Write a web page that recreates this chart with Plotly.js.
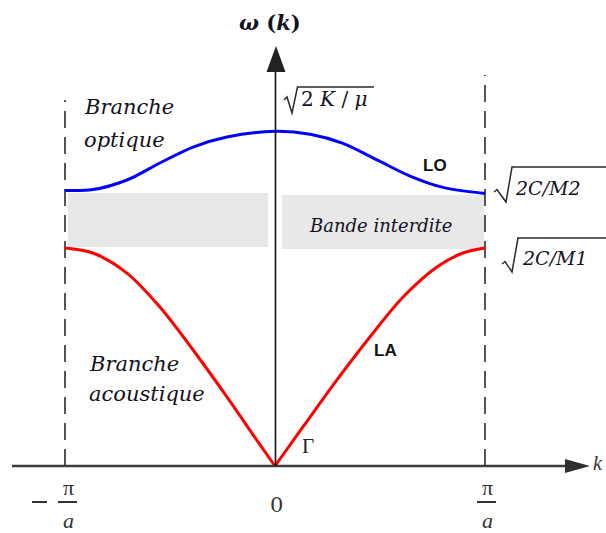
<!DOCTYPE html>
<html>
<head>
<meta charset="utf-8">
<script src="https://cdn.plot.ly/plotly-3.0.1.min.js"></script>
<style>
  html, body { margin: 0; padding: 0; background: #ffffff; }
  #chart { width: 606px; height: 533px; }
</style>
</head>
<body>
<div id="chart"></div>
<script>
// Wave vector k in units of pi/a, frequency omega in units of sqrt(2C/M1)

// Acoustic branch (LA), left half
const kAcLeft = [-1.0, -0.867, -0.705, -0.548, -0.390, -0.229, -0.071, 0.0];
const wAcLeft = [1.000, 0.977, 0.885, 0.729, 0.532, 0.317, 0.097, 0.0];
// Acoustic branch (LA), right half
const kAcRight = [0.0, 0.133, 0.295, 0.452, 0.610, 0.771, 0.895, 1.0];
const wAcRight = [0.0, 0.179, 0.395, 0.592, 0.775, 0.913, 0.977, 1.000];

// Optical branch (LO)
const kOpt = [-1.0, -0.867, -0.705, -0.548, -0.390, -0.229, 0.0, 0.167, 0.324, 0.486, 0.643, 0.800, 1.0];
const wOpt = [1.264, 1.268, 1.312, 1.390, 1.463, 1.509, 1.535, 1.522, 1.480, 1.404, 1.330, 1.278, 1.250];

// Forbidden band (left block, right block)
const gapK0 = [-0.986, 0.033];
const gapK1 = [-0.033, 0.995];
const gapW0 = [1.005, 0.995];
const gapW1 = [1.252, 1.243];

// Brillouin zone edges and the height of their dashed markers
const zoneEdges = [-1, 1];
const zoneEdgeTop = [1.679, 1.794];

const W = 606, H = 533;
// pixel helpers for decorations (paper coordinates)
const px = x => x / W;
const py = y => 1 - y / H;
const pathPx = pts => 'M' + pts.map(p => px(p[0]).toFixed(5) + ',' + py(p[1]).toFixed(5)).join(' L');

const serif = 'DejaVu Serif, serif';
const sans = 'Liberation Sans, Arial, sans-serif';
const ink = '#12121c';

const lineStyle = c => ({ color: c, width: 3, shape: 'spline', smoothing: 0.9 });
const traces = [
  { x: kAcLeft, y: wAcLeft, mode: 'lines', line: lineStyle('#ff0000'), hoverinfo: 'skip' },
  { x: kAcRight, y: wAcRight, mode: 'lines', line: lineStyle('#ff0000'), hoverinfo: 'skip' },
  { x: kOpt, y: wOpt, mode: 'lines', line: lineStyle('#0000ff'), hoverinfo: 'skip' }
];

const shapes = [];
// forbidden band blocks
for (let i = 0; i < gapK0.length; i++) {
  shapes.push({ type: 'rect', xref: 'x', yref: 'y', x0: gapK0[i], x1: gapK1[i], y0: gapW0[i], y1: gapW1[i],
    fillcolor: '#e8e8e8', line: { width: 0 }, layer: 'below' });
}
// zone-edge dashed lines
for (let i = 0; i < zoneEdges.length; i++) {
  shapes.push({ type: 'line', xref: 'x', yref: 'y', x0: zoneEdges[i], x1: zoneEdges[i], y0: 0, y1: zoneEdgeTop[i],
    line: { color: '#555555', width: 2, dash: '17px,9px' }, layer: 'below' });
}
// horizontal k axis with arrow
shapes.push({ type: 'line', xref: 'paper', yref: 'paper', x0: px(12), x1: px(568), y0: py(466), y1: py(466),
  line: { color: '#3c3c3c', width: 2.5 } });
shapes.push({ type: 'path', xref: 'paper', yref: 'paper', path: pathPx([[565, 459], [590, 466], [565, 473]]) + ' Z',
  fillcolor: '#2f2f2f', line: { width: 0 } });
// vertical omega axis with arrow
shapes.push({ type: 'line', xref: 'paper', yref: 'paper', x0: px(275.5), x1: px(275.5), y0: py(466), y1: py(70),
  line: { color: '#111111', width: 1.6 } });
shapes.push({ type: 'path', xref: 'paper', yref: 'paper', path: pathPx([[266.5, 72], [276, 46], [285.5, 72]]) + ' Z',
  fillcolor: '#222222', line: { width: 0 } });
// radicals
const radicals = [
  [[284, 100], [287, 97], [292, 113], [297.5, 87], [374, 87]],
  [[494, 192], [497, 189.5], [506, 202], [512, 167], [606, 167]],
  [[502, 264], [505, 261.5], [512, 272], [518, 238], [606, 238]]
];
radicals.forEach(r => shapes.push({ type: 'path', xref: 'paper', yref: 'paper', path: pathPx(r),
  line: { color: '#2a2a2a', width: 1.5 } }));
// fraction bars and minus sign under the axis
[[58, 77], [477, 496], [32, 47]].forEach(b => shapes.push({ type: 'line', xref: 'paper', yref: 'paper',
  x0: px(b[0]), x1: px(b[1]), y0: py(502), y1: py(502), line: { color: '#333333', width: 2 } }));

function label(text, x, y, size, opts) {
  opts = opts || {};
  return {
    text: text, xref: 'paper', yref: 'paper', x: px(x), y: py(y),
    xanchor: opts.xanchor || 'center', yanchor: 'middle', showarrow: false,
    font: { family: opts.family || serif, size: size, color: opts.color || ink }
  };
}

const annotations = [
  label('<b><i>ω</i> (<i>k</i>)</b>', 270, 22, 21),
  label('2 <i>K</i> / <i>μ</i>', 299, 99, 20, { xanchor: 'left' }),
  label('<i>2C/M2</i>', 513, 188, 19, { xanchor: 'left' }),
  label('<i>2C/M1</i>', 520, 258, 19, { xanchor: 'left' }),
  label('<b>LO</b>', 435, 165, 17, { family: sans, color: '#111111' }),
  label('<b>LA</b>', 385, 350, 17, { family: sans, color: '#111111' }),
  label('Γ', 308, 446, 21, { family: 'Liberation Serif, serif', color: '#222222' }),
  label('<i>Branche</i>', 82, 107, 21, { xanchor: 'left' }),
  label('<i>optique</i>', 82, 140, 21, { xanchor: 'left' }),
  label('<i>Branche</i>', 87, 364, 21, { xanchor: 'left' }),
  label('<i>acoustique</i>', 87, 394, 21, { xanchor: 'left' }),
  label('<i>Bande interdite</i>', 380, 225, 18),
  label('0', 276, 505, 21, { color: '#333333' }),
  label('π', 68, 487, 22, { family: 'Liberation Serif, serif', color: '#333333' }),
  label('<i>a</i>', 68, 520, 22, { family: 'Liberation Serif, serif', color: '#333333' }),
  label('π', 487, 487, 22, { family: 'Liberation Serif, serif', color: '#333333' }),
  label('<i>a</i>', 487, 520, 22, { family: 'Liberation Serif, serif', color: '#333333' }),
  label('<i>k</i>', 605, 463, 20, { xanchor: 'right', family: 'Liberation Serif, serif', color: '#333333' })
];

const layout = {
  width: W, height: H, autosize: false,
  margin: { l: 0, r: 0, t: 0, b: 0, pad: 0 },
  paper_bgcolor: '#ffffff', plot_bgcolor: '#ffffff',
  showlegend: false,
  xaxis: { range: [-275 / 210, 331 / 210], visible: false, fixedrange: true },
  yaxis: { range: [-67 / 218, 466 / 218], visible: false, fixedrange: true },
  shapes: shapes,
  annotations: annotations
};

Plotly.newPlot('chart', traces, layout, { staticPlot: true, displayModeBar: false });
</script>
</body>
</html>
